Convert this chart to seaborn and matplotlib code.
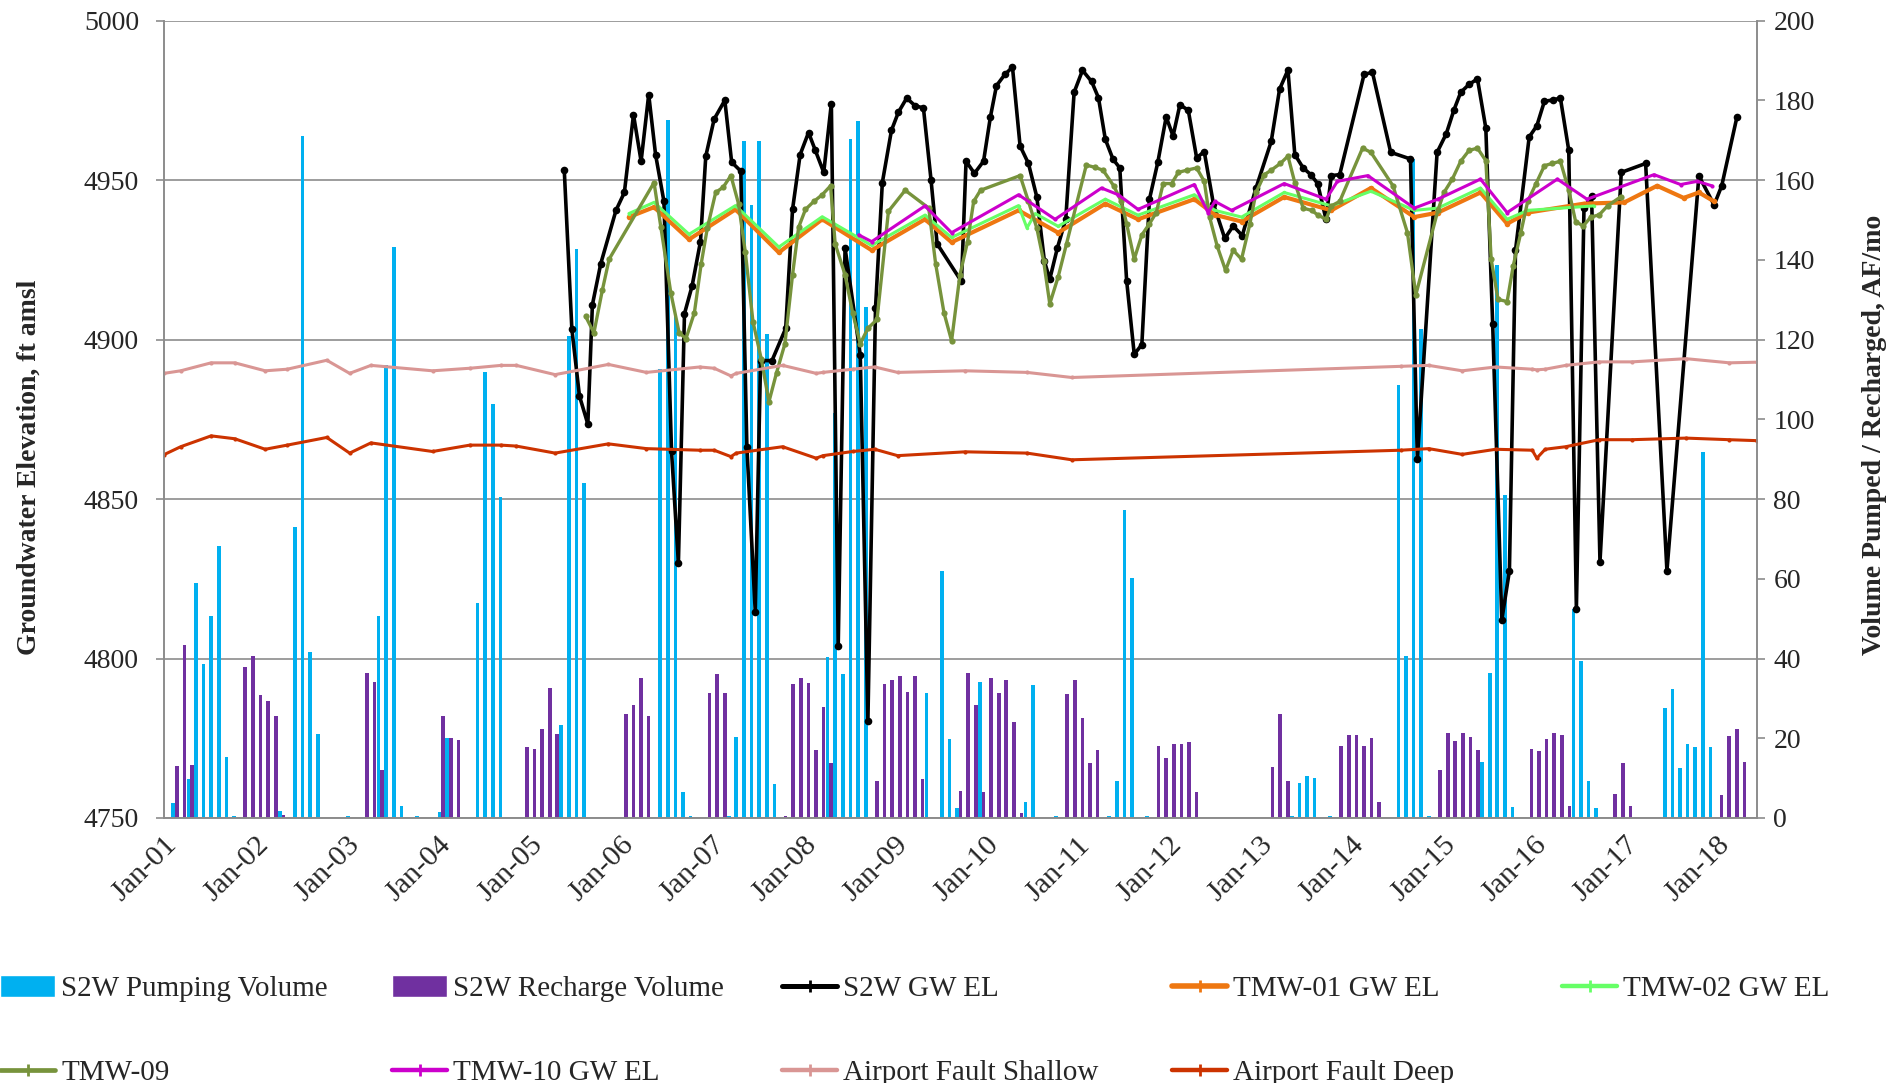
import numpy as np
import pandas as pd
import matplotlib
matplotlib.use('Agg')
import matplotlib.pyplot as plt
from matplotlib.patches import Patch
from matplotlib.lines import Line2D
import seaborn as sns

sns.set_style('white')
plt.rcParams['font.family'] = ['Liberation Serif', 'DejaVu Serif']

# x positions are months counted from Jan 2001 (0 = Jan-01)
tick_labels = ['Jan-%02d' % y for y in range(1, 19)]

# ---- monthly volumes (AF/mo), right axis ----
pump_month = [1, 3, 4, 5, 6, 7, 8, 9, 15, 17, 18, 19, 20, 24, 28, 29, 30, 31, 33,
              36, 37, 41, 42, 43, 44, 52, 53, 54, 55, 65, 66, 67, 68, 69,
              74, 75, 76, 77, 78, 79, 80, 87, 88, 89, 90, 91, 92,
              100, 102, 103, 104, 107, 113, 114, 117, 124, 125, 126, 127, 129,
              148, 149, 150, 151, 153, 162, 163, 164, 165, 166,
              173, 174, 175, 176, 177, 185, 186, 187, 188,
              197, 198, 199, 200, 201, 202, 203]
pump_vol = [3.7, 9.7, 58.9, 38.7, 50.6, 68.3, 15.3, 0.5, 1.7, 72.9, 171, 41.6, 21.0, 0.5, 50.6, 113.5, 143.3, 3.1, 0.4,
            1.5, 20.0, 53.9, 111.8, 103.9, 80.5, 23.3, 120.8, 142.8, 84.0, 112.6, 175.1, 125.9, 6.4, 0.4,
            0.4, 20.4, 169.7, 153.8, 169.7, 121.5, 8.4, 40.3, 101.5, 36.1, 170.2, 174.7, 128.1,
            31.4, 61.9, 19.7, 2.4, 34.1, 4.1, 33.3, 0.5, 0.5, 9.4, 77.3, 60.3, 0.5,
            0.4, 8.8, 10.6, 10.1, 0.4, 108.6, 40.7, 165.4, 122.6, 0.4,
            14.1, 36.3, 138.8, 80.9, 2.7, 52.3, 39.4, 9.3, 2.4,
            27.7, 32.3, 12.6, 18.6, 17.7, 91.9, 17.7]

recharge_month = [1, 2, 3, 10, 11, 12, 13, 14, 15, 26, 27, 28, 36, 37, 38,
                  47, 48, 49, 50, 51, 60, 61, 62, 63, 71, 72, 73,
                  81, 82, 83, 84, 85, 86, 87, 93, 94, 95, 96, 97, 98, 99,
                  104, 105, 106, 107, 108, 109, 110, 111, 112, 118, 119, 120, 121, 122,
                  130, 131, 132, 133, 134, 135, 145, 146, 147, 154, 155, 156, 157, 158, 159,
                  167, 168, 169, 170, 171, 172, 179, 180, 181, 182, 183, 184,
                  190, 191, 192, 204, 205, 206, 207]
recharge_vol = [13.0, 43.4, 13.4, 37.9, 40.7, 30.9, 29.4, 25.7, 0.8, 36.3, 34.1, 12.1, 25.7, 20.1, 19.5,
                17.7, 17.3, 22.4, 32.7, 21.0, 26.1, 28.3, 35.0, 25.7, 31.4, 36.1, 31.4,
                0.4, 33.7, 35.0, 33.9, 17.0, 27.9, 13.7, 9.4, 33.7, 34.6, 35.7, 31.7, 35.7, 9.7,
                6.8, 36.3, 28.3, 6.4, 35.0, 31.4, 34.6, 24.0, 1.3, 31.0, 34.6, 25.0, 13.7, 17.0,
                18.1, 15.0, 18.6, 18.6, 19.0, 6.4, 12.8, 26.1, 9.3, 18.1, 20.8, 20.8, 18.1, 20.1, 4.1,
                12.1, 21.3, 19.4, 21.3, 20.4, 17.0, 17.3, 16.8, 19.7, 21.4, 20.9, 3.1,
                6.1, 13.7, 3.1, 5.7, 20.6, 22.4, 14.0]

# ---- groundwater elevations (ft amsl), left axis ----
s2w_month = [52.6, 53.6, 54.6, 55.7, 56.3, 57.4, 59.4, 60.5, 61.7, 62.7, 63.7, 64.6, 65.7, 66.7, 67.6,
             68.4, 69.4, 70.5, 71.2, 72.3, 73.7, 74.6, 75.8, 76.6, 77.7, 78.4, 79.9, 81.7, 82.6, 83.6,
             84.7, 85.6, 86.7, 87.7, 88.6, 89.5, 91.5, 92.5, 93.5, 94.4, 95.6, 96.5, 97.6, 98.7, 99.8,
             100.8, 101.6, 104.8, 105.4, 106.5, 107.7, 108.6, 109.4, 110.5, 111.5, 112.5, 113.6, 114.7,
             115.7, 116.4, 117.4, 118.5, 119.6, 120.7, 121.9, 122.8, 123.7, 124.7, 125.6, 126.5, 127.5,
             128.5, 129.5, 130.6, 131.7, 132.6, 133.5, 134.6, 135.7, 136.7, 137.9, 139.4, 140.5, 141.7,
             143.5, 145.5, 146.6, 147.7, 148.6, 149.7, 150.7, 151.6, 152.7, 153.4, 154.5, 157.7, 158.8,
             161.2, 163.8, 164.7, 167.3, 168.5, 169.5, 170.4, 171.5, 172.6, 173.7, 174.6, 175.8, 176.8,
             177.6, 179.4, 180.4, 181.4, 182.5, 183.5, 184.6, 185.6, 186.6, 187.6, 188.7, 191.5, 194.7,
             197.5, 201.7, 203.7, 204.7, 206.7]
s2w_el = [4953.3, 4903.3, 4882.3, 4873.5, 4910.9, 4923.8, 4940.5, 4946.1, 4970.5, 4955.9, 4976.8, 4958.0, 4943.3, 4864.9, 4829.9,
          4908.1, 4916.8, 4930.7, 4957.5, 4969.1, 4975.0, 4955.6, 4952.8, 4866.3, 4814.7, 4893.4, 4893.4, 4903.5, 4940.8, 4958.0,
          4964.9, 4959.3, 4952.4, 4974.0, 4803.8, 4928.7, 4895.2, 4780.3, 4909.8, 4949.2, 4965.6, 4971.2, 4975.7, 4973.3, 4972.6,
          4950.0, 4930.0, 4918.2, 4955.9, 4952.1, 4955.9, 4969.8, 4979.6, 4983.1, 4985.4, 4960.7, 4955.2, 4944.7,
          4924.5, 4918.9, 4928.7, 4937.7, 4977.5, 4984.4, 4980.9, 4975.8, 4962.8, 4956.6, 4953.8, 4918.5, 4895.4,
          4898.4, 4944.0, 4955.6, 4969.8, 4963.8, 4973.6, 4971.9, 4957.0, 4958.9, 4942.6, 4931.7, 4935.6, 4932.6,
          4947.5, 4962.1, 4978.5, 4984.5, 4958.0, 4953.8, 4951.7, 4948.9, 4937.7, 4951.4, 4951.7, 4983.1, 4983.8,
          4958.7, 4956.6, 4862.4, 4958.7, 4964.5, 4971.9, 4977.5, 4980.0, 4981.7, 4966.3, 4904.9, 4812.1, 4827.5,
          4928.0, 4963.5, 4967.0, 4974.7, 4975.1, 4975.7, 4959.3, 4815.6, 4941.2, 4945.0, 4830.3, 4952.4, 4955.2,
          4827.5, 4951.3, 4942.2, 4948.2, 4969.8]

tmw01_month = [61.1, 64.4, 69.0, 75.1, 80.8, 86.5, 93.0, 100.0, 103.5, 112.3, 117.5, 123.7, 128.0, 135.4,
               138.1, 141.6, 147.2, 153.4, 158.6, 164.3, 167.4, 173.0, 176.5, 179.2, 186.6, 191.9, 196.2,
               199.7, 201.7, 203.7]
tmw01_el = [4938.4, 4941.5, 4931.4, 4940.8, 4927.3, 4937.7, 4928.0, 4937.7, 4930.5, 4940.5, 4933.5, 4942.6, 4937.7, 4944.0,
            4939.1, 4937.0, 4944.7, 4940.5, 4947.5, 4938.4, 4939.8, 4946.1, 4936.3, 4939.8, 4942.6, 4943.0, 4948.2,
            4944.4, 4946.1, 4943.3]

tmw02_month = [61.1, 64.4, 69.0, 75.1, 80.8, 86.5, 93.0, 100.0, 103.5, 112.3, 113.4, 114.5, 117.5, 123.7,
               128.0, 135.4, 138.1, 141.6, 147.2, 153.4, 158.6, 164.3, 167.4, 173.0, 176.5, 179.2, 187.9]
tmw02_el = [4939.5, 4943.0, 4933.0, 4942.0, 4929.0, 4938.5, 4929.5, 4939.0, 4932.0, 4942.0, 4935.0, 4939.5, 4935.5, 4944.0,
            4939.0, 4945.4, 4940.5, 4938.4, 4946.1, 4941.9, 4946.5, 4940.5, 4941.2, 4947.5, 4937.7, 4940.5, 4941.9]

tmw09_month = [55.4, 56.5, 57.6, 58.5, 64.4, 65.3, 66.6, 67.7, 68.6, 69.7, 70.6, 71.4, 72.5, 73.5, 74.5, 75.5,
               76.4, 77.4, 78.5, 79.5, 80.5, 81.6, 82.6, 83.4, 84.3, 85.4, 86.5, 87.6, 88.2, 89.5, 90.5, 91.5,
               92.5, 93.7, 95.2, 97.4, 100.5, 101.4, 102.5, 103.5, 104.6, 105.6, 106.4, 107.3, 112.5, 113.6,
               114.7, 115.6, 116.4, 117.5, 118.6, 121.2, 122.3, 123.4, 124.8, 125.8, 126.5, 127.5, 128.5,
               129.5, 130.4, 131.3, 132.4, 133.3, 134.4, 135.7, 136.7, 137.4, 138.4, 139.5, 140.5, 141.6,
               142.7, 143.5, 144.6, 145.5, 146.7, 147.7, 148.6, 149.7, 150.8, 151.6, 152.7, 153.4, 154.5,
               157.5, 158.6, 161.5, 163.4, 164.5, 167.4, 168.2, 169.3, 170.4, 171.5, 172.6, 173.7, 174.4,
               175.3, 176.5, 177.3, 178.3, 179.2, 180.3, 181.4, 182.4, 183.5, 184.6, 185.5, 186.5, 187.5,
               188.6, 189.7, 191.4]
tmw09_el = [4907.3, 4902.1, 4915.4, 4925.2, 4949.2, 4935.2, 4914.7, 4902.1, 4900.3, 4908.4, 4923.8, 4934.9, 4946.1, 4947.8, 4951.4, 4942.6,
            4927.3, 4905.6, 4893.8, 4880.5, 4889.6, 4898.7, 4920.3, 4935.2, 4940.8, 4943.3, 4945.4, 4948.2, 4930.0, 4920.3, 4908.4, 4898.7,
            4903.5, 4906.3, 4940.2, 4946.8, 4941.2, 4923.8, 4908.4, 4899.6, 4920.3, 4930.7, 4943.3, 4946.8, 4951.4, 4943.3,
            4934.9, 4924.5, 4911.2, 4919.6, 4930.0, 4954.7, 4954.0, 4953.1, 4948.2, 4943.3, 4936.3, 4925.2, 4932.8,
            4936.3, 4939.8, 4948.9, 4948.9, 4952.4, 4953.1, 4953.8, 4949.6, 4938.4, 4929.3, 4921.7, 4928.0, 4925.2,
            4936.3, 4946.1, 4951.7, 4953.1, 4955.2, 4957.5, 4949.2, 4941.2, 4940.5, 4939.1, 4937.7, 4941.9, 4943.3,
            4960.0, 4958.7, 4948.2, 4933.5, 4914.0, 4940.5, 4946.1, 4950.3, 4955.9, 4959.3, 4960.0, 4956.1, 4925.2,
            4912.6, 4911.9, 4923.1, 4933.5, 4943.3, 4948.9, 4954.5, 4955.2, 4955.9, 4946.8, 4937.0, 4935.6, 4938.4,
            4939.1, 4941.9, 4944.7]

tmw10_month = [91.3, 93.0, 100.0, 103.5, 112.3, 117.1, 123.2, 125.4, 128.0, 135.4, 137.2, 138.1, 140.3,
               147.2, 152.7, 154.2, 158.2, 164.3, 167.4, 173.0, 176.5, 183.1, 187.0, 195.8, 199.3, 201.5, 203.4]
tmw10_el = [4932.8, 4930.7, 4941.9, 4933.5, 4945.4, 4937.7, 4947.5, 4945.4, 4940.8, 4948.6, 4939.8, 4943.3, 4940.5,
            4948.9, 4944.0, 4949.6, 4951.4, 4941.2, 4944.0, 4950.3, 4939.8, 4950.3, 4944.0, 4951.7, 4948.6, 4949.6, 4948.2]

af_month = [0, 2.2, 6.2, 9.3, 13.3, 16.2, 21.4, 24.4, 27.2, 35.3, 40.2, 44.3, 46.3, 51.4, 58.4, 63.4, 70.4,
            72.3, 74.5, 75.2, 81.3, 85.7, 86.6, 90.5, 93.4, 96.4, 105.3, 113.4, 119.3, 162.5, 166.2,
            170.6, 175.0, 179.8, 180.4, 181.5, 184.2, 188.6, 192.9, 200.0, 205.7, 209.3]
af_shallow_el = [4889.4, 4890.2, 4892.7, 4892.7, 4890.2, 4890.7, 4893.5, 4889.4, 4891.9, 4890.2, 4891.0, 4891.9, 4891.9, 4889.0, 4892.2, 4889.7, 4891.4,
                 4891.0, 4888.6, 4889.4, 4891.9, 4889.4, 4889.7, 4890.7, 4891.4, 4889.7, 4890.2, 4889.7, 4888.1, 4891.6, 4891.9,
                 4890.2, 4891.4, 4890.7, 4890.5, 4890.7, 4891.9, 4893.0, 4893.0, 4894.0, 4892.7, 4892.9]
af_deep_el = [4863.9, 4866.4, 4869.8, 4868.9, 4865.6, 4866.9, 4869.3, 4864.4, 4867.6, 4864.9, 4866.9, 4866.9, 4866.6, 4864.4, 4867.3, 4865.8, 4865.3,
              4865.3, 4863.3, 4864.4, 4866.4, 4862.8, 4863.6, 4864.9, 4865.6, 4863.6, 4864.8, 4864.4, 4862.3, 4865.3, 4865.8,
              4864.0, 4865.6, 4865.3, 4862.8, 4865.6, 4866.4, 4868.6, 4868.6, 4869.1, 4868.6, 4868.3]

# Colors
c_pump = '#00B0F0'
c_rech = '#7030A0'
c_grid = '#8C8C8C'

fig = plt.figure(figsize=(18.91, 10.83), dpi=100)
ax_vol = fig.add_subplot(111)
fig.subplots_adjust(left=0.0867, right=0.929, top=0.981, bottom=0.2447)
ax_el = ax_vol.twinx()

# Bars (volume) on the lower axes so lines sit on top
bars = pd.concat([
    pd.DataFrame({'month': np.array(pump_month) + 0.45, 'vol': pump_vol, 'series': 'S2W Pumping Volume'}),
    pd.DataFrame({'month': np.array(recharge_month) + 0.45, 'vol': recharge_vol, 'series': 'S2W Recharge Volume'}),
])
sns.barplot(data=bars, x='month', y='vol', hue='series',
            hue_order=['S2W Pumping Volume', 'S2W Recharge Volume'],
            palette=[c_pump, c_rech], native_scale=True, dodge=True, width=0.96,
            errorbar=None, linewidth=0, saturation=1, legend=False, ax=ax_vol)
for v in range(0, 201, 40):
    ax_vol.axhline(v, color=c_grid, lw=1.2, zorder=0.5)

# Lines (elevations)
line_specs = [
    ('S2W GW EL', s2w_month, s2w_el, '#000000', 2.6, 5.5),
    ('TMW-01 GW EL', tmw01_month, tmw01_el, '#EE7711', 3.0, 4.0),
    ('TMW-02 GW EL', tmw02_month, tmw02_el, '#66FF66', 2.2, 2.5),
    ('TMW-09', tmw09_month, tmw09_el, '#77933C', 2.4, 4.5),
    ('TMW-10 GW EL', tmw10_month, tmw10_el, '#CC00CC', 2.2, 3.0),
    ('Airport Fault Shallow', af_month, af_shallow_el, '#D99694', 2.2, 3.0),
    ('Airport Fault Deep', af_month, af_deep_el, '#CC3300', 2.2, 3.0),
]
for name, xm, yv, col, lw, ms in line_specs:
    sns.lineplot(x=xm, y=yv, ax=ax_el, color=col, linewidth=lw, marker='o',
                 markersize=ms, markeredgewidth=0, estimator=None, legend=False)

# Axes setup
ax_vol.set_xlim(0, 209.3)
ax_vol.set_ylim(0, 200)
ax_el.set_ylim(4750, 5000)
ax_vol.set_xticks(np.arange(0, 205, 12))
ax_vol.set_xticklabels(tick_labels, rotation=45, ha='right', rotation_mode='anchor')
ax_vol.set_yticks(range(0, 201, 20))
ax_el.set_yticks(range(4750, 5001, 50))
ax_vol.set_xlabel('')

# volume axis on the right, elevation axis on the left
ax_vol.yaxis.tick_right()
ax_el.yaxis.tick_left()
ax_vol.set_ylabel('Volume Pumped / Recharged, AF/mo', fontsize=20, fontweight='bold')
ax_vol.yaxis.set_label_position('right')
ax_el.set_ylabel('Groundwater Elevation, ft amsl', fontsize=20, fontweight='bold')
ax_el.yaxis.set_label_position('left')
ax_el.yaxis.set_label_coords(-0.077, 0.44)
ax_vol.yaxis.set_label_coords(1.066, 0.48)

for a in (ax_vol, ax_el):
    a.tick_params(axis='both', direction='out', length=6, width=1.2, color=c_grid, labelsize=20)
    for s in ('left', 'right', 'bottom'):
        a.spines[s].set_color(c_grid)
        a.spines[s].set_linewidth(1.2)
    a.spines['top'].set_visible(False)
ax_el.tick_params(axis='y', pad=12)
ax_vol.tick_params(axis='y', pad=6)
ax_vol.tick_params(axis='x', pad=4, labelsize=21.5)

# Legend (Excel-style, one legend per column so columns are evenly spaced)
h = {
    'S2W Pumping Volume': Patch(facecolor=c_pump),
    'S2W Recharge Volume': Patch(facecolor=c_rech),
}
for name, xm, yv, col, lw, ms in line_specs:
    h[name] = Line2D([], [], color=col, lw=lw + 1, marker='|', markersize=8, markeredgewidth=2)
columns = [['S2W Pumping Volume', 'TMW-09'],
           ['S2W Recharge Volume', 'TMW-10 GW EL'],
           ['S2W GW EL', 'Airport Fault Shallow'],
           ['TMW-01 GW EL', 'Airport Fault Deep'],
           ['TMW-02 GW EL']]
col_x = [0.0, 0.2073, 0.4135, 0.6198, 0.826]
for x0, names in zip(col_x, columns):
    fig.legend([h[k] for k in names], names, loc='upper left',
               bbox_to_anchor=(x0, 1 - 975 / 1083), frameon=False, fontsize=21,
               handlelength=1.9, handleheight=0.8, handletextpad=0.2, labelspacing=1.95,
               borderaxespad=0, borderpad=0)

fig.savefig('out.png', dpi=100)
